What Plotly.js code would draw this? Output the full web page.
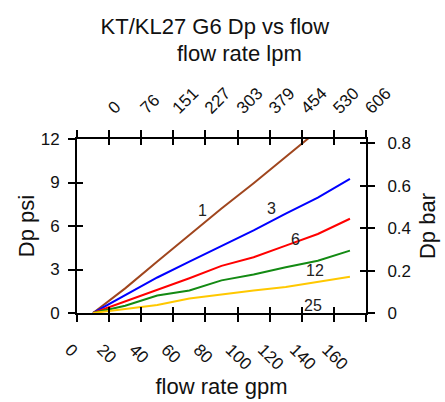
<!DOCTYPE html>
<html>
<head>
<meta charset="utf-8">
<script src="https://cdn.plot.ly/plotly-3.0.1.min.js"></script>
<style>html,body{margin:0;padding:0;background:#fff;}#chart{width:445px;height:402px;}</style>
</head>
<body>
<div id="chart"></div>
<script>
// Data
const flowGpm = [10, 30, 50, 70, 90, 110, 130, 150, 170];
const dp1  = [0, 1.7, 3.55, 5.4, 7.2, 8.95, 10.75, 12.6, 14.4];
const dp3  = [0, 1.25, 2.45, 3.55, 4.6, 5.7, 6.85, 7.95, 9.25];
const dp6  = [0, 0.8, 1.55, 2.4, 3.25, 3.85, 4.65, 5.45, 6.5];
const dp12 = [0, 0.5, 1.2, 1.55, 2.25, 2.65, 3.15, 3.6, 4.3];
const dp25 = [0, 0.25, 0.55, 1.0, 1.3, 1.55, 1.8, 2.15, 2.5];
const seriesNames = ['1', '3', '6', '12', '25'];
const seriesColors = ['#a0461e', '#0000ff', '#ff0000', '#138a13', '#ffc800'];
const gpmTicks = [0, 20, 40, 60, 80, 100, 120, 140, 160, 180];
const gpmTickText = ['0', '20', '40', '60', '80', '100', '120', '140', '160', ''];
const lpmTickText = ['', '0', '76', '151', '227', '303', '379', '454', '530', '606'];
const psiTicks = [0, 3, 6, 9, 12];
const barTicks = [0, 0.2, 0.4, 0.6, 0.8];
// label positions for series names (gpm, psi)
const labelX = [78, 121, 136, 148, 147];
const labelY = [7.1, 7.2, 5.1, 2.95, 0.5];

const allDp = [dp1, dp3, dp6, dp12, dp25];
const FONT = 'Liberation Sans, Arial, sans-serif';

const traces = allDp.map((d, i) => ({
  type: 'scatter', mode: 'lines', x: flowGpm, y: d, name: seriesNames[i],
  line: {color: seriesColors[i], width: 2}, xaxis: 'x', yaxis: 'y', showlegend: false,
  hoverinfo: 'x+y+name'
}));
// empty helper traces so that the overlaying axes (secondary scales / crossing ticks) get drawn
[['x2', 'y'], ['x3', 'y'], ['x', 'y2'], ['x', 'y3'], ['x', 'y4']].forEach(([xa, ya]) => {
  traces.push({type: 'scatter', mode: 'lines', x: [null], y: [null], xaxis: xa, yaxis: ya,
    showlegend: false, hoverinfo: 'skip'});
});

const axBase = {showgrid: false, zeroline: false, showline: true, linecolor: '#000', linewidth: 2,
  tickcolor: '#000', tickwidth: 2, tickfont: {family: FONT, size: 17, color: '#111'}};

const annotations = seriesNames.map((n, i) => ({
  text: n, x: labelX[i], y: labelY[i], xref: 'x', yref: 'y', showarrow: false,
  font: {family: FONT, size: 16, color: '#222'}
}));
annotations.push({text: 'flow rate lpm', xref: 'paper', yref: 'paper', x: 0.562, y: 1,
  yanchor: 'middle', yshift: 86, showarrow: false, font: {family: FONT, size: 22, color: '#111'}});

const layout = {
  width: 445, height: 402,
  margin: {l: 77, r: 79, t: 139, b: 89, pad: 0},
  paper_bgcolor: '#fff', plot_bgcolor: '#fff',
  showlegend: false,
  title: {text: 'KT/KL27 G6 Dp vs flow', x: 0.483, xanchor: 'center', y: 1 - 26 / 402, yanchor: 'middle',
    font: {family: FONT, size: 22, color: '#111'}},
  xaxis: Object.assign({}, axBase, {range: [0, 180], side: 'bottom', anchor: 'y',
    tickmode: 'array', tickvals: gpmTicks, ticktext: gpmTickText, ticks: 'outside', ticklen: 7,
    tickangle: 45, ticklabelstandoff: 11, ticklabelshift: -7,
    title: {text: 'flow rate gpm', font: {family: FONT, size: 22, color: '#111'}, standoff: 6}}),
  xaxis2: Object.assign({}, axBase, {range: [0, 180], side: 'top', overlaying: 'x', anchor: 'y',
    tickmode: 'array', tickvals: gpmTicks, ticktext: lpmTickText, ticks: 'outside', ticklen: 7,
    tickangle: -45, ticklabelstandoff: 6}),
  xaxis3: Object.assign({}, axBase, {range: [0, 180], side: 'bottom', overlaying: 'x', anchor: 'y',
    tickmode: 'array', tickvals: gpmTicks, ticks: 'inside', ticklen: 6, mirror: 'allticks',
    showticklabels: false}),
  yaxis: Object.assign({}, axBase, {range: [0, 12], side: 'left', anchor: 'x',
    tickmode: 'array', tickvals: psiTicks, ticks: 'outside', ticklen: 7, ticklabelstandoff: 5,
    title: {text: 'Dp psi', font: {family: FONT, size: 22, color: '#111'}, standoff: 0}}),
  yaxis2: Object.assign({}, axBase, {range: [0, 0.82], side: 'right', overlaying: 'y', anchor: 'x',
    tickmode: 'array', tickvals: barTicks, ticks: 'outside', ticklen: 7, ticklabelstandoff: 9,
    title: {text: 'Dp bar', font: {family: FONT, size: 22, color: '#111'}, standoff: 10}}),
  yaxis3: Object.assign({}, axBase, {range: [0, 12], side: 'left', overlaying: 'y', anchor: 'x',
    tickmode: 'array', tickvals: psiTicks, ticks: 'inside', ticklen: 6, showticklabels: false}),
  yaxis4: Object.assign({}, axBase, {range: [0, 0.82], side: 'right', overlaying: 'y', anchor: 'x',
    tickmode: 'array', tickvals: barTicks, ticks: 'inside', ticklen: 6, showticklabels: false}),
  annotations: annotations
};

Plotly.newPlot('chart', traces, layout, {displayModeBar: false, staticPlot: true});
</script>
</body>
</html>
